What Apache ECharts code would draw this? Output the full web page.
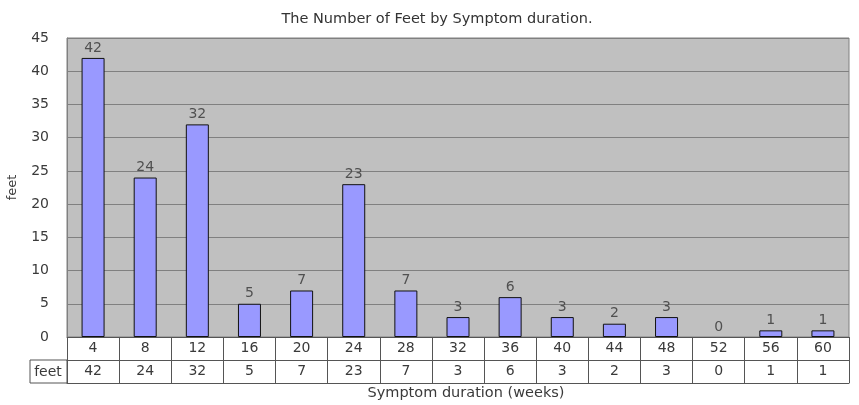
<!DOCTYPE html>
<html>
<head>
<meta charset="utf-8">
<script src="https://cdn.jsdelivr.net/npm/echarts@6/dist/echarts.min.js"></script>
<style>html,body{margin:0;padding:0;background:#fff}#c{width:859px;height:405px}</style>
</head>
<body>
<div id="c"></div>
<script>
const categories = ['4','8','12','16','20','24','28','32','36','40','44','48','52','56','60'];
const feet = [42,24,32,5,7,23,7,3,6,3,2,3,0,1,1];
const yTicks = {min:0, max:45, interval:5};

const FONT = '"DejaVu Sans", sans-serif';
const TXT = '#3a3a3a';
const chart = echarts.init(document.getElementById('c'));
const lineColor = '#555';
chart.setOption({
  animation: false,
  backgroundColor: '#fff',
  title: {
    text: 'The Number of Feet by Symptom duration.',
    left: 432, textAlign: 'center', top: 7,
    textStyle: {fontSize: 14.5, fontWeight: 'normal', color: '#333', fontFamily: FONT}
  },
  grid: {
    left: 67, right: 10, top: 38, bottom: 68, outerBoundsMode: 'none', containLabel: false,
    show: true, backgroundColor: '#C0C0C0', borderColor: '#808080', borderWidth: 1
  },
  xAxis: [
    {
      type: 'category', data: categories, position: 'bottom',
      axisLine: {show: true, lineStyle: {color: lineColor, width: 1}},
      axisTick: {show: true, length: 46, lineStyle: {color: lineColor}},
      axisLabel: {interval: 0, margin: 4, fontSize: 14, color: TXT, fontFamily: FONT}
    },
    {
      type: 'category', data: feet.map(String), position: 'bottom', offset: 23,
      axisLine: {show: true, lineStyle: {color: lineColor, width: 1}},
      axisTick: {show: false},
      axisLabel: {interval: 0, margin: 4, fontSize: 14, color: TXT, fontFamily: FONT}
    },
    {
      type: 'category', data: categories, position: 'bottom', offset: 46,
      axisLine: {show: true, lineStyle: {color: lineColor, width: 1}},
      axisTick: {show: false}, axisLabel: {show: false},
      name: 'Symptom duration (weeks)', nameLocation: 'middle', nameGap: 3,
      nameTextStyle: {fontSize: 14.5, color: TXT, fontFamily: FONT, verticalAlign: 'top', padding: [0, 0, 0, 16]}
    }
  ],
  yAxis: {
    type: 'value', min: yTicks.min, max: yTicks.max, interval: yTicks.interval,
    axisLine: {show: true, lineStyle: {color: '#808080'}},
    axisTick: {show: false},
    splitLine: {lineStyle: {color: '#808080', width: 1}},
    axisLabel: {fontSize: 14, color: TXT, fontFamily: FONT, margin: 18},
    name: 'feet', nameLocation: 'middle', nameGap: 48, nameRotate: 90,
    nameTextStyle: {fontSize: 13, color: TXT, fontFamily: FONT}
  },
  series: [{
    type: 'bar', xAxisIndex: 0, barWidth: 23,
    data: feet.map(v => v === 0 ? {value: v, itemStyle: {borderWidth: 0}} : v),
    itemStyle: {color: '#9999FF', borderColor: '#111', borderWidth: 1},
    label: {show: true, position: 'top', distance: 3, fontSize: 14, color: '#505050', fontFamily: FONT}
  }],
  graphic: [
    {type: 'rect', shape: {x: 30, y: 360, width: 37, height: 23},
     style: {fill: 'none', stroke: lineColor, lineWidth: 1}},
    {type: 'text', x: 48, y: 372, style: {text: 'feet', font: '14px ' + FONT, fill: TXT, textAlign: 'center', textVerticalAlign: 'middle'}}
  ]
});
</script>
</body>
</html>
